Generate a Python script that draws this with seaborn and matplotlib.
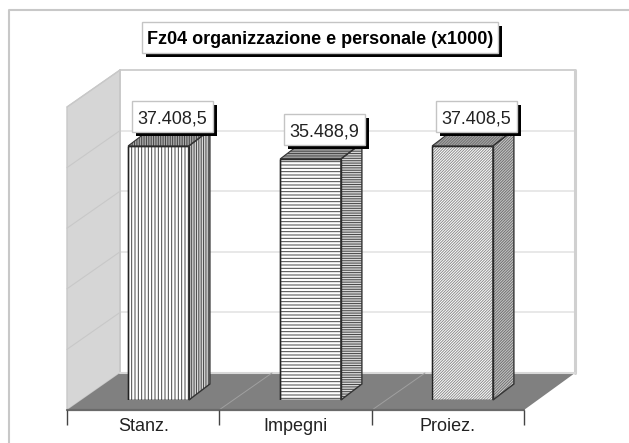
import matplotlib
matplotlib.use("Agg")
import matplotlib.pyplot as plt
from matplotlib.patches import Polygon, Rectangle
import seaborn as sns
import pandas as pd

categories = ["Stanz.", "Impegni", "Proiez."]
values = [37408.5, 35488.9, 37408.5]
value_labels = ["37.408,5", "35.488,9", "37.408,5"]
grid_values = [0, 9000, 18000, 27000, 36000, 45000]
title = "Fz04 organizzazione e personale (x1000)"

W, H = 629, 443
sns.set_style("white")
plt.rcParams["font.family"] = ["Liberation Sans", "DejaVu Sans"]
plt.rcParams["hatch.linewidth"] = 0.7

fig = plt.figure(figsize=(W / 100, H / 100), dpi=100, facecolor="white")


def px_axes(left, top, right, bottom, **kw):
    return fig.add_axes(
        [left / W, 1 - bottom / H, (right - left) / W, (bottom - top) / H], **kw
    )


# white label box with a black drop shadow, centred on a pixel position
def label_box(cx, cy, w, h, text, **kw):
    x0, y0 = cx - w / 2, cy + h / 2
    fig.add_artist(Rectangle(((x0 + 4) / W, 1 - (y0 + 4) / H), w / W, h / H, transform=fig.transFigure,
                             fc="black", ec="none", zorder=5))
    fig.add_artist(Rectangle((x0 / W, 1 - y0 / H), w / W, h / H, transform=fig.transFigure,
                             fc="white", ec="#c4c4c4", lw=1, zorder=6))
    fig.text(cx / W, 1 - cy / H, text, ha="center", va="center_baseline", zorder=7, **kw)


# background: page frame, walls, floor (pixel coordinates)
bg = px_axes(0, 0, W, H, zorder=0)
bg.set_xlim(0, W)
bg.set_ylim(H, 0)
bg.axis("off")
bg.plot([9, 9, W], [H, 10, 10], color="#c8c8c8", lw=1.5)

bg.add_patch(Polygon([(67, 107), (120, 70), (120, 373), (67, 410)], fc="#d6d6d6", ec="#c8c8c8", lw=1))
bg.add_patch(Polygon([(120, 373), (575, 373), (524, 410), (67, 410)], fc="#808080", ec="none"))

wall_scale = (373 - 70) / grid_values[-1]
for v in grid_values[1:]:
    y = 373 - v * wall_scale
    color = "#c8c8c8" if v == grid_values[-1] else "#e4e4e4"
    bg.plot([120, 575], [y, y], color=color, lw=1.2, zorder=1)
    bg.plot([67, 120], [y + 37, y], color="#c8c8c8", lw=0.8, zorder=1)
bg.plot([120, 120], [70, 373], color="#c8c8c8", lw=1.2, zorder=1)
bg.plot([575, 575], [70, 373], color="#d0d0d0", lw=2.2, zorder=1)
bg.plot([120, 575], [373, 373], color="#d8d8d8", lw=1.5, zorder=3)
for x in [219, 372]:
    bg.plot([x, x + 53], [410, 373], color="#a0a0a0", lw=0.7, zorder=3)
bg.plot([67, 524], [410, 410], color="#6a6a6a", lw=1.6, zorder=3)

# category axis along the front edge of the floor
base = px_axes(67, 380, 524, 410, zorder=1)
base.patch.set_alpha(0)
base.set_xlim(-0.5, 2.5)
base.set_ylim(0, 1)
for s in ["top", "left", "right", "bottom"]:
    base.spines[s].set_visible(False)
base.set_yticks([])
base.set_xticks(range(len(categories)))
base.set_xticklabels(categories, fontsize=13, color="#222222")
base.set_xticks([-0.5, 0.5, 1.5, 2.5], minor=True)
base.tick_params(axis="x", which="major", length=0, pad=6)
base.tick_params(axis="x", which="minor", length=11, width=1, color="#444444", bottom=True)

# bars
ax = px_axes(82.5, 94.4, 538.5, 400, zorder=2)
ax.patch.set_alpha(0)
df = pd.DataFrame({"cat": categories, "val": values})
sns.barplot(data=df, x="cat", y="val", ax=ax, width=0.4, color="white",
            saturation=1, edgecolor="#222222", linewidth=1)
ax.set_xlim(-0.5, 2.5)
ax.set_ylim(0, 45000)
ax.axis("off")

dx = 21 / 152
dy = 16 / (305.6 / 45000)
hatches = ["|||||", "-----", "/" * 12]
side_hatches = ["|||||||", "-------", "/" * 12]
front_line = ["#444444", "#444444", "#8c8c8c"]
side_line = ["#444444", "#444444", "#707070"]
side_fc = ["#d8d8d8", "#d8d8d8", "#c8c8c8"]
for bar, hatch, shatch, fl, sl, sfc, lab, val in zip(
    ax.patches, hatches, side_hatches, front_line, side_line, side_fc, value_labels, values
):
    x0, w, h = bar.get_x(), bar.get_width(), bar.get_height()
    bar.set_hatch(hatch)
    bar.set_edgecolor(fl)
    side = [(x0 + w, 0), (x0 + w + dx, dy), (x0 + w + dx, h + dy), (x0 + w, h)]
    top = [(x0, h), (x0 + dx, h + dy), (x0 + w + dx, h + dy), (x0 + w, h)]
    ax.add_patch(Polygon(side, fc=sfc, ec=sl, hatch=shatch, lw=0, clip_on=False, zorder=3))
    ax.add_patch(Polygon(top, fc="#a8a8a8", ec=sl, hatch=shatch, lw=0, clip_on=False, zorder=3))
    # dark outlines go on separately so the hatching can stay lighter
    ax.add_patch(Rectangle((x0, 0), w, h, fill=False, ec="#222222", lw=1, zorder=4))
    ax.add_patch(Polygon(side, fill=False, ec="#333333", lw=1, clip_on=False, zorder=4))
    ax.add_patch(Polygon(top, fill=False, ec="#333333", lw=0.8, clip_on=False, zorder=4))
    # value label sits up and to the right of the bar top
    px, py = ax.transData.transform((x0 + w / 2, val))
    label_box(px + 14, H - py - 29, 81, 31, lab, fontsize=13, color="#222222")

label_box(320, 37.5, 356, 31, title, fontsize=13, fontweight="bold", color="black")

fig.savefig("out.png", dpi=100)
